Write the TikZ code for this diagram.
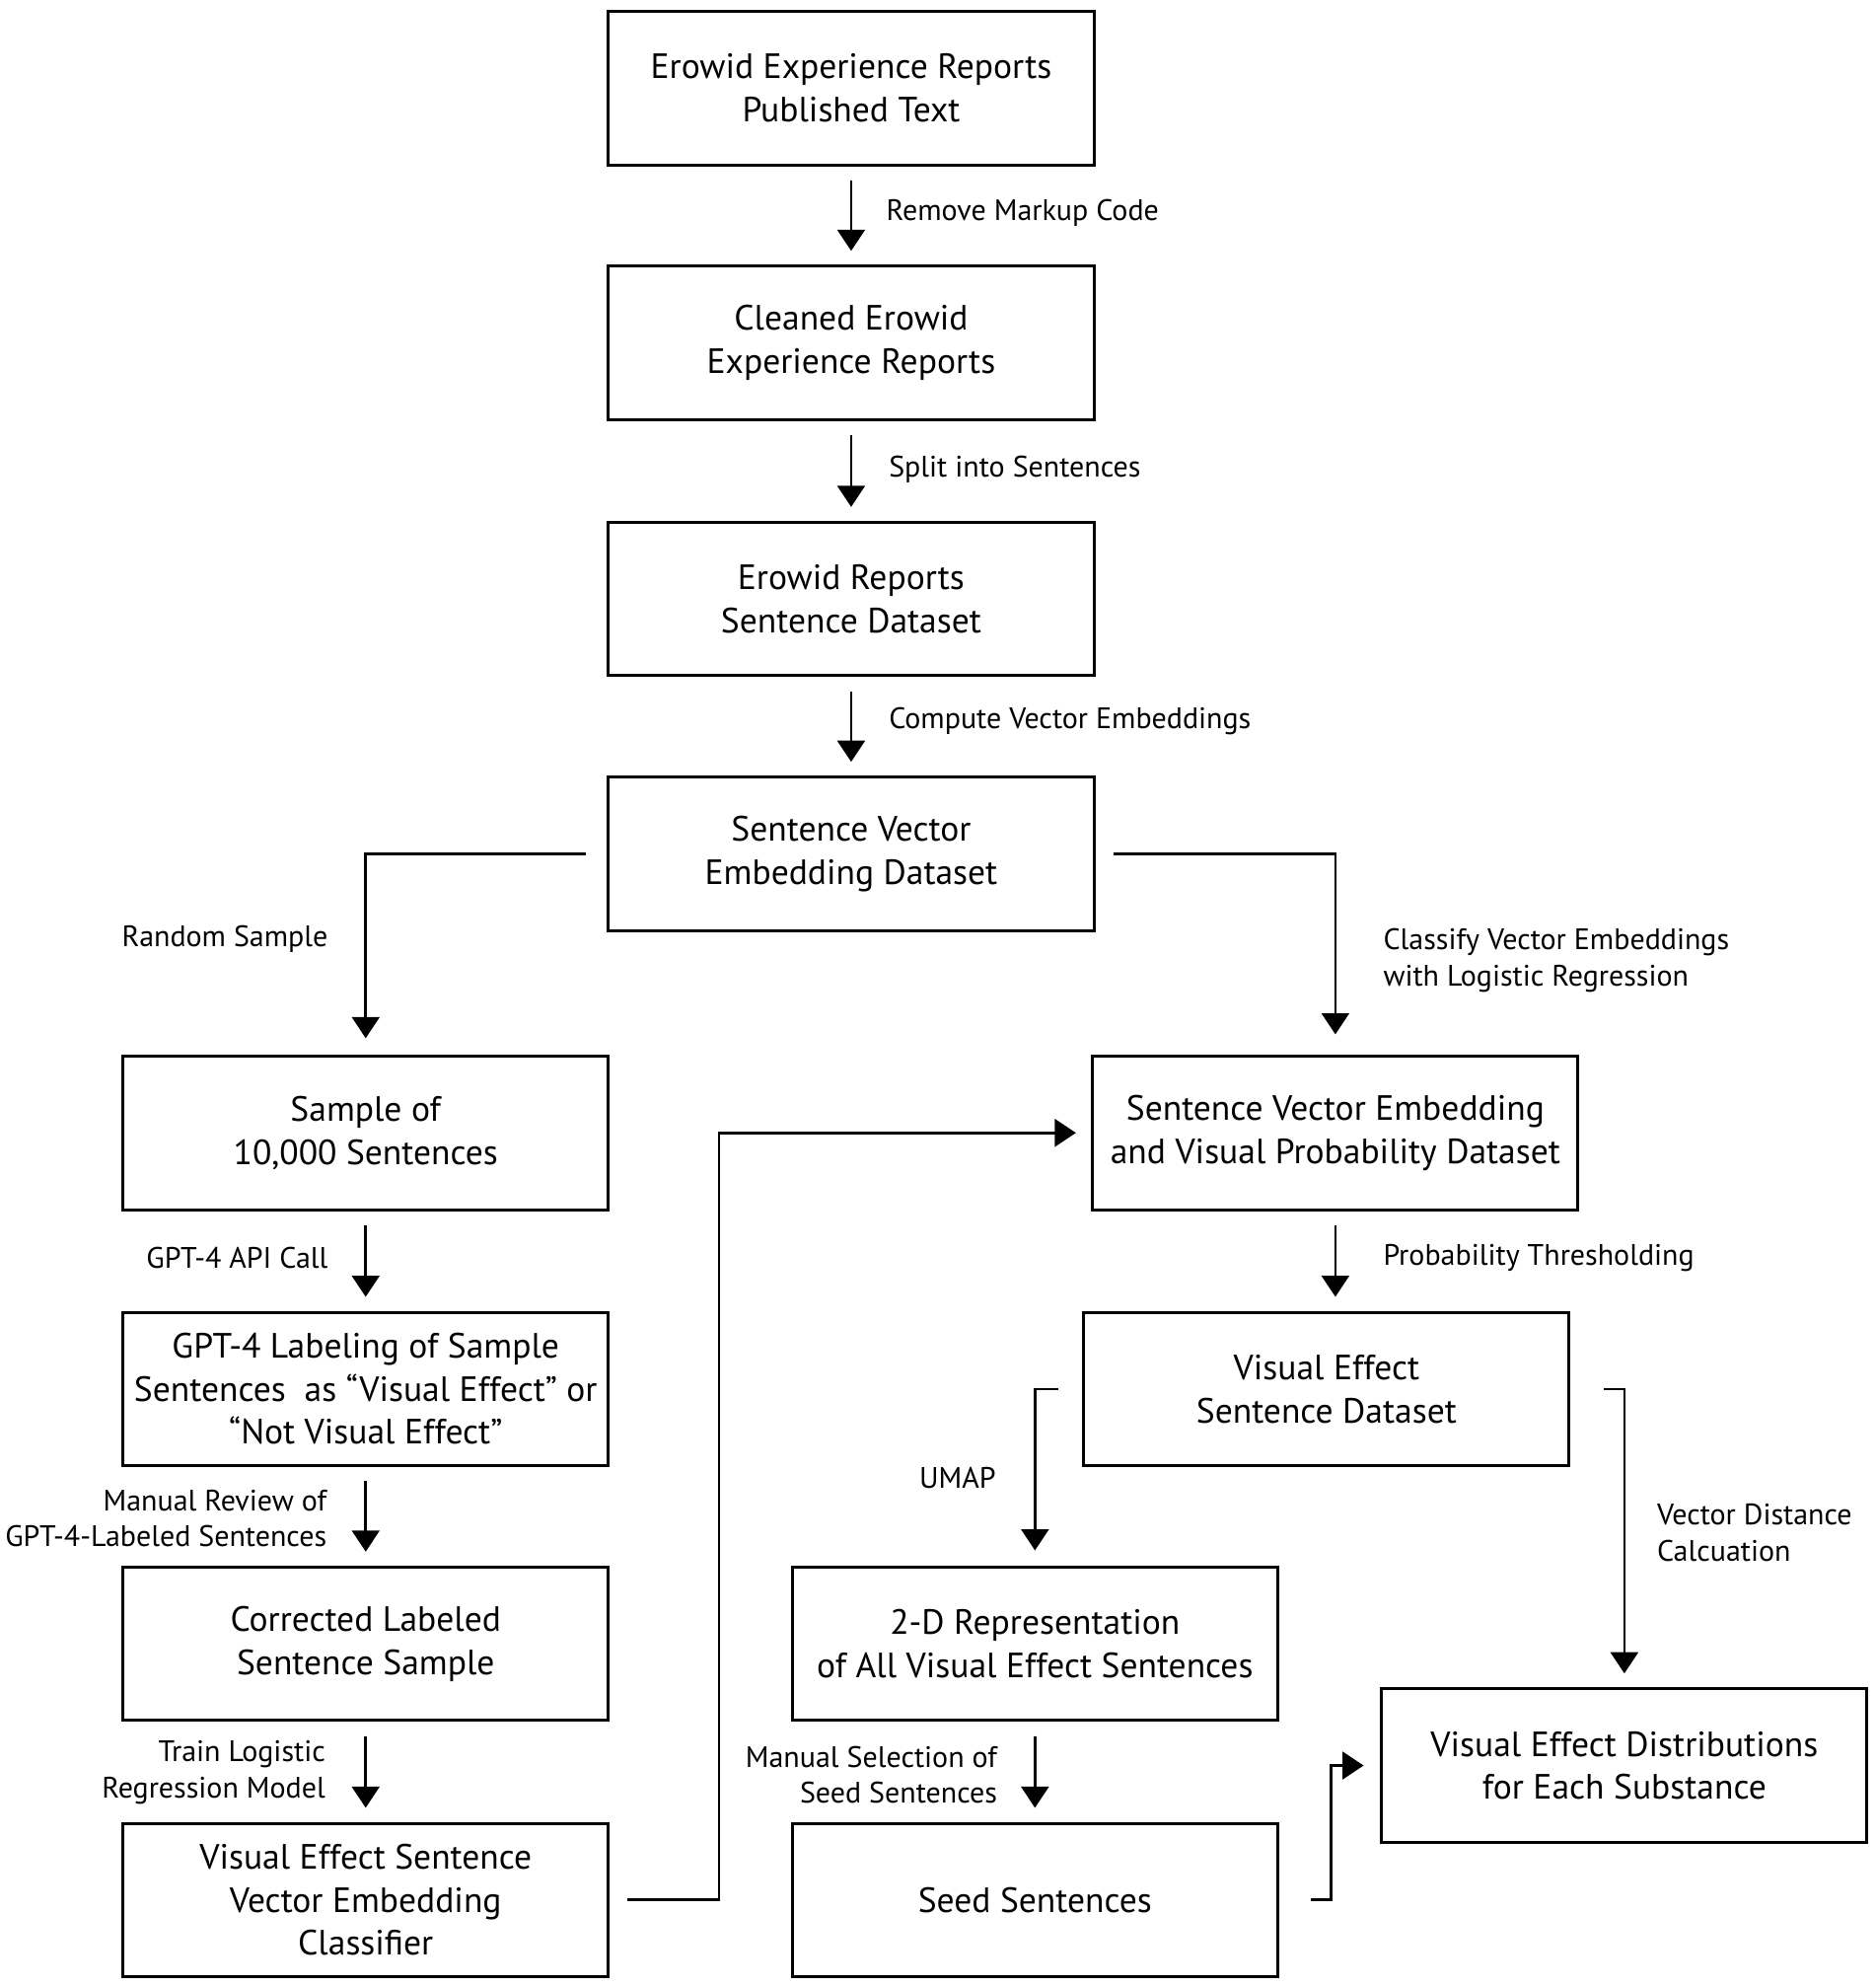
\documentclass[tikz,border=0pt]{standalone}
\usepackage{fontspec}
\setmainfont{PT Sans}
\usetikzlibrary{arrows.meta}
\begin{document}
\begin{tikzpicture}[x=0.6pt,y=-0.6pt,
 box/.style={draw,line width=1.4pt,minimum width=229.8pt,minimum height=72.6pt,inner sep=0pt,align=center,font=\fontsize{16.6}{20.4}\selectfont},
 lbl/.style={font=\fontsize{14}{17}\selectfont,inner sep=0pt},
 arr/.style={line width=1.2pt,-{Triangle[width=13pt,length=10pt]}},
 vgap/.style={shorten <=6.6pt,shorten >=6.6pt}
]
\useasboundingbox (0,0) rectangle (1480,1566.4);

\node[box] (n1) at (671.5,69.5) {Erowid Experience Reports\\Published Text};
\node[box] (n2) at (671.5,270.5) {Cleaned Erowid\\Experience Reports};
\node[box] (n3) at (671.5,472.5) {Erowid Reports\\Sentence Dataset};
\node[box] (n4) at (671.5,673.5) {Sentence Vector\\Embedding Dataset};
\node[box] (n5) at (288.5,893.5) {Sample of\\10,000 Sentences};
\node[box] (n6) at (288.5,1095.5) {GPT-4 Labeling of Sample\\Sentences\ \ as “Visual Effect” or\\“Not Visual Effect”};
\node[box] (n7) at (288.5,1296.5) {Corrected Labeled\\Sentence Sample};
\node[box] (n8) at (288.5,1498.5) {Visual Effect Sentence\\Vector Embedding\\Classifier};
\node[box] (n9) at (1053.5,893.5) {Sentence Vector Embedding\\and Visual Probability Dataset};
\node[box] (n10) at (1046.5,1095.5) {Visual Effect\\Sentence Dataset};
\node[box] (n11) at (816.5,1296.5) {2-D Representation\\of All Visual Effect Sentences};
\node[box] (n12) at (816.5,1498.5) {Seed Sentences};
\node[box] (n13) at (1281.5,1392.5) {Visual Effect Distributions\\for Each Substance};

\draw[arr,vgap] (n1.south) -- (n2.north);
\draw[arr,vgap] (n2.south) -- (n3.north);
\draw[arr,vgap] (n3.south) -- (n4.north);
\draw[arr,shorten <=10.2pt,shorten >=7.8pt] (n4.west) -| (n5.north);
\draw[arr,shorten <=8.4pt,shorten >=9.6pt] (n4.east) -| (n9.north);
\draw[arr,vgap] (n5.south) -- (n6.north);
\draw[arr,vgap] (n6.south) -- (n7.north);
\draw[arr,vgap] (n7.south) -- (n8.north);
\draw[arr,shorten <=8.4pt,shorten >=7.2pt] (n8.east) -- ++(86,0) |- (n9.west);
\draw[arr,vgap] (n9.south) -- (n9.south |- n10.north);
\draw[arr,shorten <=11.4pt,shorten >=7.2pt] (n10.west) -| (n11.north);
\draw[arr,shorten <=15.6pt,shorten >=6.6pt] (n10.east) -| (n13.north);
\draw[arr,vgap] (n11.south) -- (n12.north);
\draw[arr,shorten <=15pt,shorten >=7.8pt] (n12.east) -- ++(41,0) |- (n13.west);

\node[lbl,anchor=west] (l1) at (699,168) {Remove Markup Code};
\node[lbl,anchor=west] (l2) at (701,370) {Split into Sentences};
\node[lbl,anchor=west] (l3) at (701,569) {Compute Vector Embeddings};
\node[lbl,anchor=east] (l4) at (259,741) {Random Sample};
\node[lbl,anchor=west,align=left] (l5) at (1091,757.5) {Classify Vector Embeddings\\with Logistic Regression};
\node[lbl,anchor=east] (l6) at (259,992) {GPT-4 API Call};
\node[lbl,anchor=east,align=right] (l7) at (258,1197.5) {Manual Review of\\GPT-4-Labeled Sentences};
\node[lbl,anchor=east,align=right] (l8) at (257,1398) {Train Logistic\\Regression Model};
\node[lbl,anchor=west] (l9) at (1091,992) {Probability Thresholding};
\node[lbl,anchor=east] (l10) at (786,1166) {UMAP};
\node[lbl,anchor=west,align=left] (l11) at (1307,1209) {Vector Distance\\Calcuation};
\node[lbl,anchor=east,align=right] (l12) at (787,1400) {Manual Selection of\\Seed Sentences};
\end{tikzpicture}
\end{document}
